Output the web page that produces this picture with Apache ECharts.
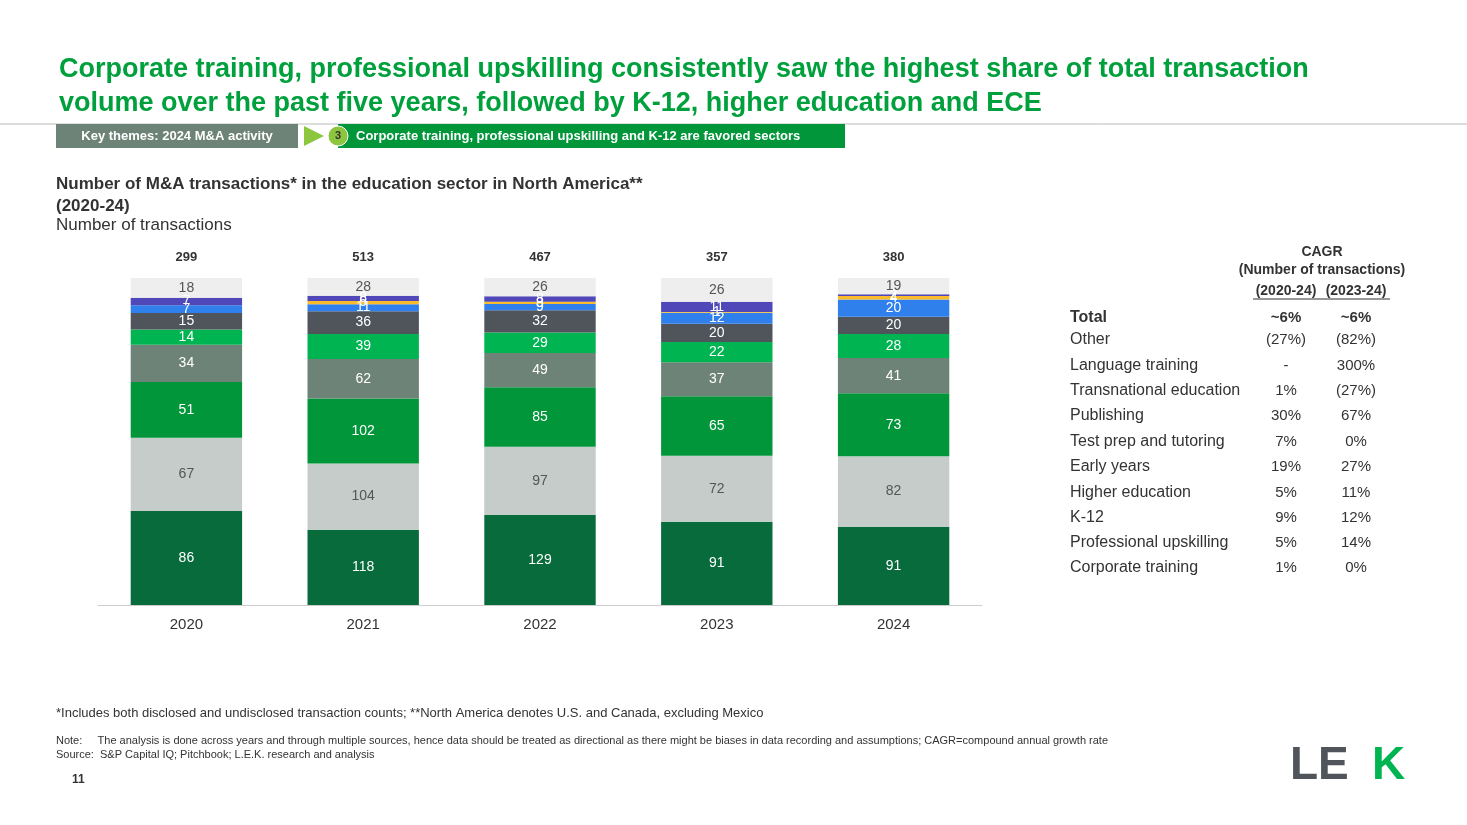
<!DOCTYPE html>
<html><head><meta charset="utf-8">
<script src="https://cdn.jsdelivr.net/npm/echarts@6/dist/echarts.min.js"></script>
<style>html,body{margin:0;background:#fff}#c{width:1467px;height:825px}</style>
</head><body><div id="c"></div>
<script>
// data, bottom to top in the stack
const years = ["2020", "2021", "2022", "2023", "2024"];
const totals = ["299", "513", "467", "357", "380"];
const corporate = [86, 118, 129, 91, 91];
const professional = [67, 104, 97, 72, 82];
const k12 = [51, 102, 85, 65, 73];
const higherEd = [34, 62, 49, 37, 41];
const earlyYears = [14, 39, 29, 22, 28];
const testPrep = [15, 36, 32, 20, 20];
const publishing = [7, 11, 9, 12, 20];
const language = [0, 5, 3, 1, 4];
const transnational = [7, 8, 8, 11, 2];
const other = [18, 28, 26, 26, 19];

const tableRows = ["Total", "Other", "Language training", "Transnational education", "Publishing",
  "Test prep and tutoring", "Early years", "Higher education", "K-12", "Professional upskilling", "Corporate training"];
const cagr2024 = ["~6%", "(27%)", "-", "1%", "30%", "7%", "19%", "5%", "9%", "5%", "1%"];
const cagr2324 = ["~6%", "(82%)", "300%", "(27%)", "67%", "0%", "27%", "11%", "12%", "14%", "0%"];

const layers = [
  { name: "Corporate training", data: corporate, color: "#076b3b", text: "#fff" },
  { name: "Professional upskilling", data: professional, color: "#c5ccc9", text: "#555" },
  { name: "K-12", data: k12, color: "#009639", text: "#fff" },
  { name: "Higher education", data: higherEd, color: "#6e8378", text: "#fff" },
  { name: "Early years", data: earlyYears, color: "#00b451", text: "#fff" },
  { name: "Test prep and tutoring", data: testPrep, color: "#50555c", text: "#fff" },
  { name: "Publishing", data: publishing, color: "#2f80ed", text: "#fff" },
  { name: "Language training", data: language, color: "#fbbc2c", text: "#fff" },
  { name: "Transnational education", data: transnational, color: "#5048b8", text: "#fff" },
  { name: "Other", data: other, color: "#eeeeee", text: "#555" }
];
const sums = years.map((_, i) => layers.reduce((s, l) => s + l.data[i], 0));

const chart = echarts.init(document.getElementById("c"));
const font = "Arial, Liberation Sans, sans-serif";

const series = layers.map(l => ({
  name: l.name, type: "bar", stack: "all", barWidth: "63%",
  itemStyle: { color: l.color },
  label: {
    show: true, color: l.text, fontSize: 14, fontFamily: font,
    formatter: p => (l.data[p.dataIndex] ? l.data[p.dataIndex] : "")
  },
  data: l.data.map((v, i) => v / sums[i] * 100)
}));

const graphics = [
  { type: "line", shape: { x1: 0, y1: 124, x2: 1467, y2: 124 }, style: { stroke: "#bbb", lineWidth: 1 } },
  { type: "rect", shape: { x: 56, y: 124, width: 242, height: 24 }, style: { fill: "#6e8378" } },
  { type: "text", x: 177, y: 136, style: { text: "Key themes: 2024 M&A activity", fill: "#fff", font: "bold 13px " + font, align: "center", verticalAlign: "middle" } },
  { type: "polygon", shape: { points: [[304, 126], [324, 136], [304, 146]] }, style: { fill: "#8cc63f" } },
  { type: "rect", shape: { x: 338, y: 124, width: 507, height: 24 }, style: { fill: "#009639" } },
  { type: "circle", shape: { cx: 338, cy: 136, r: 10 }, style: { fill: "#8cc63f", stroke: "#fff", lineWidth: 1 } },
  { type: "text", x: 338, y: 136, style: { text: "3", fill: "#333", font: "bold 11px " + font, align: "center", verticalAlign: "middle" } },
  { type: "text", x: 356, y: 136, style: { text: "Corporate training, professional upskilling and K-12 are favored sectors", fill: "#fff", font: "bold 13px " + font, verticalAlign: "middle" } },
  { type: "text", x: 56, y: 173, style: { text: "Number of M&A transactions* in the education sector in North America**\n(2020-24)", fill: "#333", font: "bold 17px " + font, lineHeight: 22 } },
  { type: "text", x: 56, y: 217, style: { text: "Number of transactions", fill: "#333", font: "17px " + font } },
  { type: "text", x: 1322, y: 252, style: { text: "CAGR", fill: "#333", font: "bold 14px " + font, align: "center", verticalAlign: "middle" } },
  { type: "text", x: 1322, y: 270, style: { text: "(Number of transactions)", fill: "#333", font: "bold 14px " + font, align: "center", verticalAlign: "middle" } },
  { type: "text", x: 1286, y: 291, style: { text: "(2020-24)", fill: "#333", font: "bold 14px " + font, align: "center", verticalAlign: "middle" } },
  { type: "text", x: 1356, y: 291, style: { text: "(2023-24)", fill: "#333", font: "bold 14px " + font, align: "center", verticalAlign: "middle" } },
  { type: "line", shape: { x1: 1253, y1: 299, x2: 1390, y2: 299 }, style: { stroke: "#333", lineWidth: 1 } },
  { type: "text", x: 56, y: 713, style: { text: "*Includes both disclosed and undisclosed transaction counts; **North America denotes U.S. and Canada, excluding Mexico", fill: "#333", font: "13px " + font, verticalAlign: "middle" } },
  { type: "text", x: 56, y: 741, style: { text: "Note:     The analysis is done across years and through multiple sources, hence data should be treated as directional as there might be biases in data recording and assumptions; CAGR=compound annual growth rate", fill: "#333", font: "11px " + font, verticalAlign: "middle" } },
  { type: "text", x: 56, y: 755, style: { text: "Source:  S&P Capital IQ; Pitchbook; L.E.K. research and analysis", fill: "#333", font: "11px " + font, verticalAlign: "middle" } },
  { type: "text", x: 72, y: 780, style: { text: "11", fill: "#333", font: "bold 12px " + font, verticalAlign: "middle" } },
  { type: "text", x: 1290, y: 766, style: { text: "LE", fill: "#50555c", font: "bold 46px " + font, verticalAlign: "middle" } },
  { type: "text", x: 1372, y: 766, style: { text: "K", fill: "#00b451", font: "bold 46px " + font, verticalAlign: "middle" } }
];
const rowY = [318, 340, 366, 391, 416, 442, 467, 493, 518, 543, 568];
tableRows.forEach((r, i) => {
  const b = i === 0 ? "bold " : "";
  graphics.push({ type: "text", x: 1070, y: rowY[i], style: { text: r, fill: "#333", font: b + "16px " + font, verticalAlign: "middle" } });
  graphics.push({ type: "text", x: 1286, y: rowY[i], style: { text: cagr2024[i], fill: "#333", font: b + "15px " + font, align: "center", verticalAlign: "middle" } });
  graphics.push({ type: "text", x: 1356, y: rowY[i], style: { text: cagr2324[i], fill: "#333", font: b + "15px " + font, align: "center", verticalAlign: "middle" } });
});

chart.setOption({
  animation: false,
  title: {
    text: "Corporate training, professional upskilling consistently saw the highest share of total transaction\nvolume over the past five years, followed by K-12, higher education and ECE",
    left: 54, top: 48,
    textStyle: { color: "#00a03c", fontSize: 27, fontWeight: "bold", fontFamily: font, lineHeight: 34 }
  },
  grid: { left: 98, right: 485, top: 278, bottom: 220 },
  xAxis: [
    { type: "category", data: years, axisTick: { show: false },
      axisLine: { lineStyle: { color: "#ccc" } },
      axisLabel: { color: "#333", fontSize: 15, margin: 12, fontFamily: font } },
    { type: "category", position: "top", data: totals, axisTick: { show: false }, axisLine: { show: false },
      axisLabel: { color: "#333", fontSize: 13, fontWeight: "bold", margin: 14, fontFamily: font } }
  ],
  yAxis: { type: "value", min: 0, max: 100, show: false },
  series: series,
  graphic: graphics
});
</script></body></html>
